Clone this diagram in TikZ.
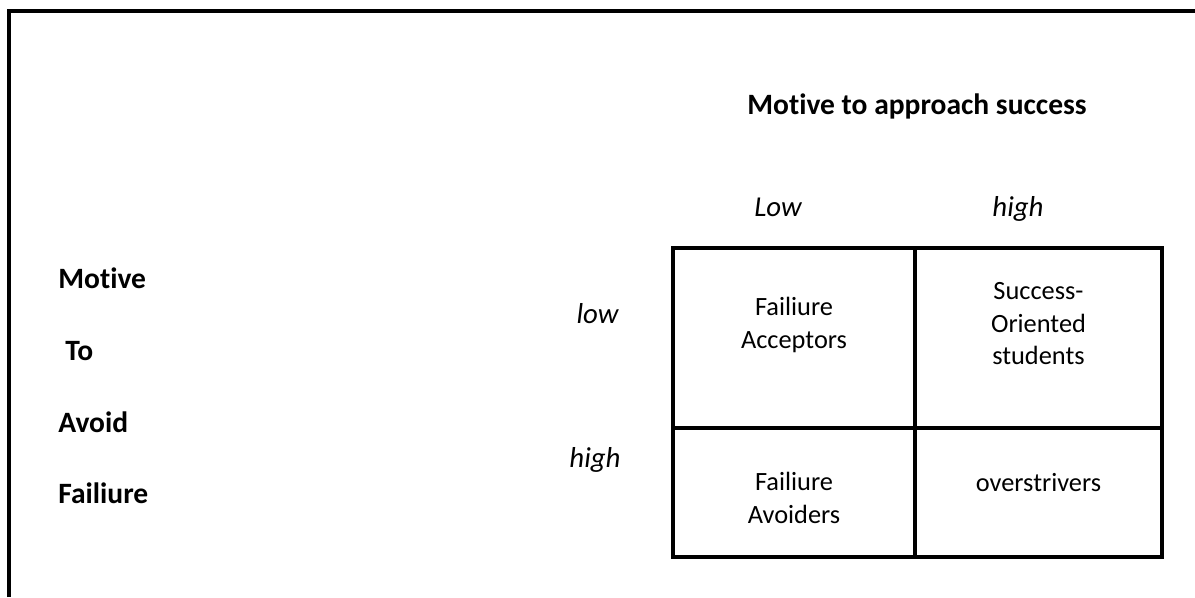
\documentclass[tikz,border=0pt]{standalone}
\usepackage{fontspec}
\setmainfont{Carlito}[Ligatures=NoCommon]
\usetikzlibrary{positioning}
\begin{document}
\begin{tikzpicture}[
	cell/.style={rectangle, draw=black, line width=2.3pt, inner sep=0pt, outer sep=0pt},
	celltext/.style={align=center, inner sep=0pt, font=\fontsize{15}{18.5}\selectfont},
	heading/.style={inner sep=0pt, font=\fontsize{16.8}{20}\selectfont\bfseries},
	level/.style={inner sep=0pt, font=\fontsize{16.4}{20}\selectfont\itshape},
	frameline/.style={line width=2.3pt}
	]
	\useasboundingbox (0,0) rectangle (23.9,11.94);
	\draw[frameline] (0.18,0) -- (0.18,11.72) -- (23.9,11.72);
	
	% column and row headings
	\node[heading, anchor=base] (succhead) at (18.34,9.66) {Motive to approach success};
	\node[level, anchor=base] (collow) at (15.56,7.62) {Low};
	\node[level, anchor=base] (colhigh) at (20.36,7.62) {high};
	\node[level, anchor=base] (rowlow) at (11.95,5.48) {low};
	\node[level, anchor=base] (rowhigh) at (11.90,2.60) {high};
	
	\node[heading, anchor=base west] (fail1) at (1.16,6.18) {Motive};
	\node[heading, anchor=base west] (fail2) at (1.30,4.74) {To};
	\node[heading, anchor=base west] (fail3) at (1.16,3.30) {Avoid};
	\node[heading, anchor=base west] (fail4) at (1.16,1.88) {Failiure};
	
	% the four cells
	\node[cell, minimum width=4.84cm, minimum height=3.6cm] (acc) at (15.88,5.18) {};
	\node[cell, minimum width=4.94cm, minimum height=3.6cm, right=0pt of acc] (succ) {};
	\node[cell, minimum width=4.84cm, minimum height=2.58cm, below=0pt of acc] (avo) {};
	\node[cell, minimum width=4.94cm, minimum height=2.58cm, below=0pt of succ] (over) {};
	
	\node[celltext] (acctxt) at ([yshift=0.26cm]acc.center) {Failiure\\Acceptors};
	\node[celltext] (succtxt) at ([yshift=0.28cm]succ.center) {Success-\\Oriented\\students};
	\node[celltext] (avotxt) at ([yshift=-0.11cm]avo.center) {Failiure\\Avoiders};
	\node[celltext] (overtxt) at ([yshift=0.19cm]over.center) {overstrivers};
	
\end{tikzpicture}
\end{document}
